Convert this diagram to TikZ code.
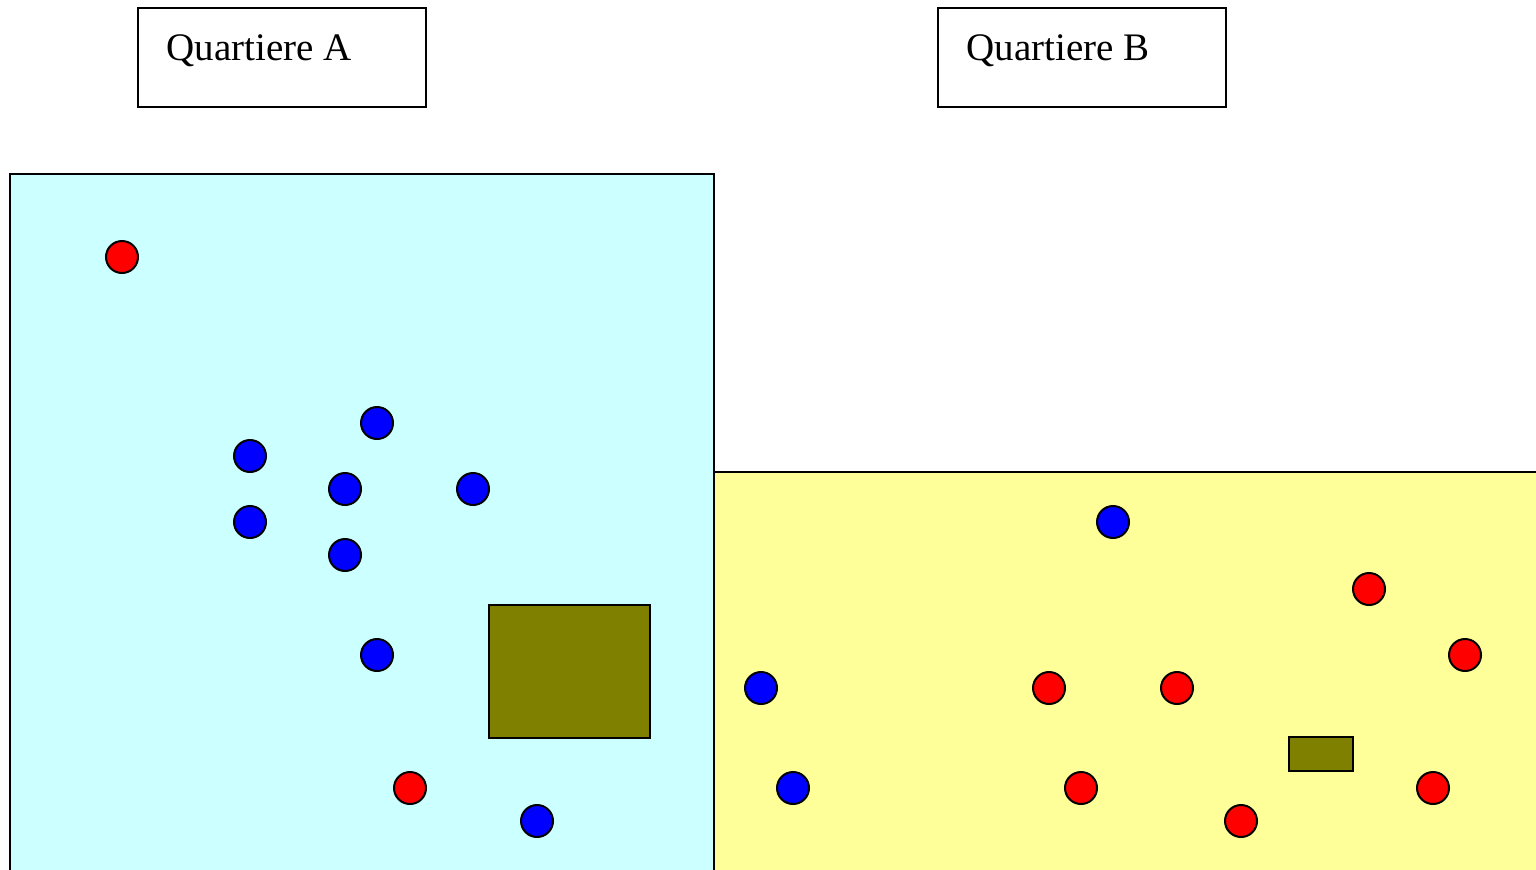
\documentclass[tikz,border=0pt]{standalone}
\usepackage{fontspec}
\setmainfont{Liberation Serif}
\definecolor{zoneA}{HTML}{CCFFFF}
\definecolor{zoneB}{HTML}{FFFF99}
\definecolor{oliveC}{HTML}{808000}
\tikzset{
  lbl/.style={draw=black, line width=1pt, fill=white, minimum width=144pt, minimum height=49.5pt, inner sep=0pt},
  lbltext/.style={anchor=base west, inner sep=0pt, font=\fontsize{19.5pt}{23pt}\selectfont},
  zone/.style={draw=black, line width=1pt},
  bld/.style={draw=black, line width=1pt, fill=oliveC},
  dot/.style={circle, draw=black, line width=1pt, minimum size=16pt, inner sep=0pt},
  rdot/.style={dot, fill=red},
  bdot/.style={dot, fill=blue}
}
\begin{document}
\begin{tikzpicture}[x=0.5pt, y=-0.5pt]
\useasboundingbox (0,0) rectangle (1536,869);
\clip (0,0) rectangle (1536,869);
% zones
\draw[zone, fill=zoneA] (10,880) -- (10,174) -- (714,174) -- (714,880);
\draw[zone, fill=zoneB] (714,880) -- (714,472) -- (1550,472) -- (1550,880);
% buildings
\node[bld, minimum width=80.5pt, minimum height=66.5pt, inner sep=0pt] (bA) at (569.5,671.5) {};
\node[bld, minimum width=32pt, minimum height=17pt, inner sep=0pt] (bB) at (1321,754) {};
% labels
\node[lbl] (qa) at (282,57.5) {};
\node[lbltext] (qat) at (166,60) {Quartiere A};
\node[lbl] (qb) at (1081.5,57.5) {};
\node[lbltext] (qbt) at (966,60) {Quartiere B};
% zone A residents
\node[rdot] (a1) at (122,257) {};
\node[rdot] (a2) at (410,788) {};
\node[bdot] (a3) at (377,423) {};
\node[bdot] (a4) at (250,456) {};
\node[bdot] (a5) at (345,489) {};
\node[bdot] (a6) at (473,489) {};
\node[bdot] (a7) at (250,522) {};
\node[bdot] (a8) at (345,555) {};
\node[bdot] (a9) at (377,655) {};
\node[bdot] (a10) at (537,821) {};
% zone B residents
\node[bdot] (b1) at (1113,522) {};
\node[bdot] (b2) at (761,688) {};
\node[bdot] (b3) at (793,788) {};
\node[rdot] (b4) at (1369,589) {};
\node[rdot] (b5) at (1465,655) {};
\node[rdot] (b6) at (1049,688) {};
\node[rdot] (b7) at (1177,688) {};
\node[rdot] (b8) at (1081,788) {};
\node[rdot] (b9) at (1241,821) {};
\node[rdot] (b10) at (1433,788) {};
\end{tikzpicture}
\end{document}
